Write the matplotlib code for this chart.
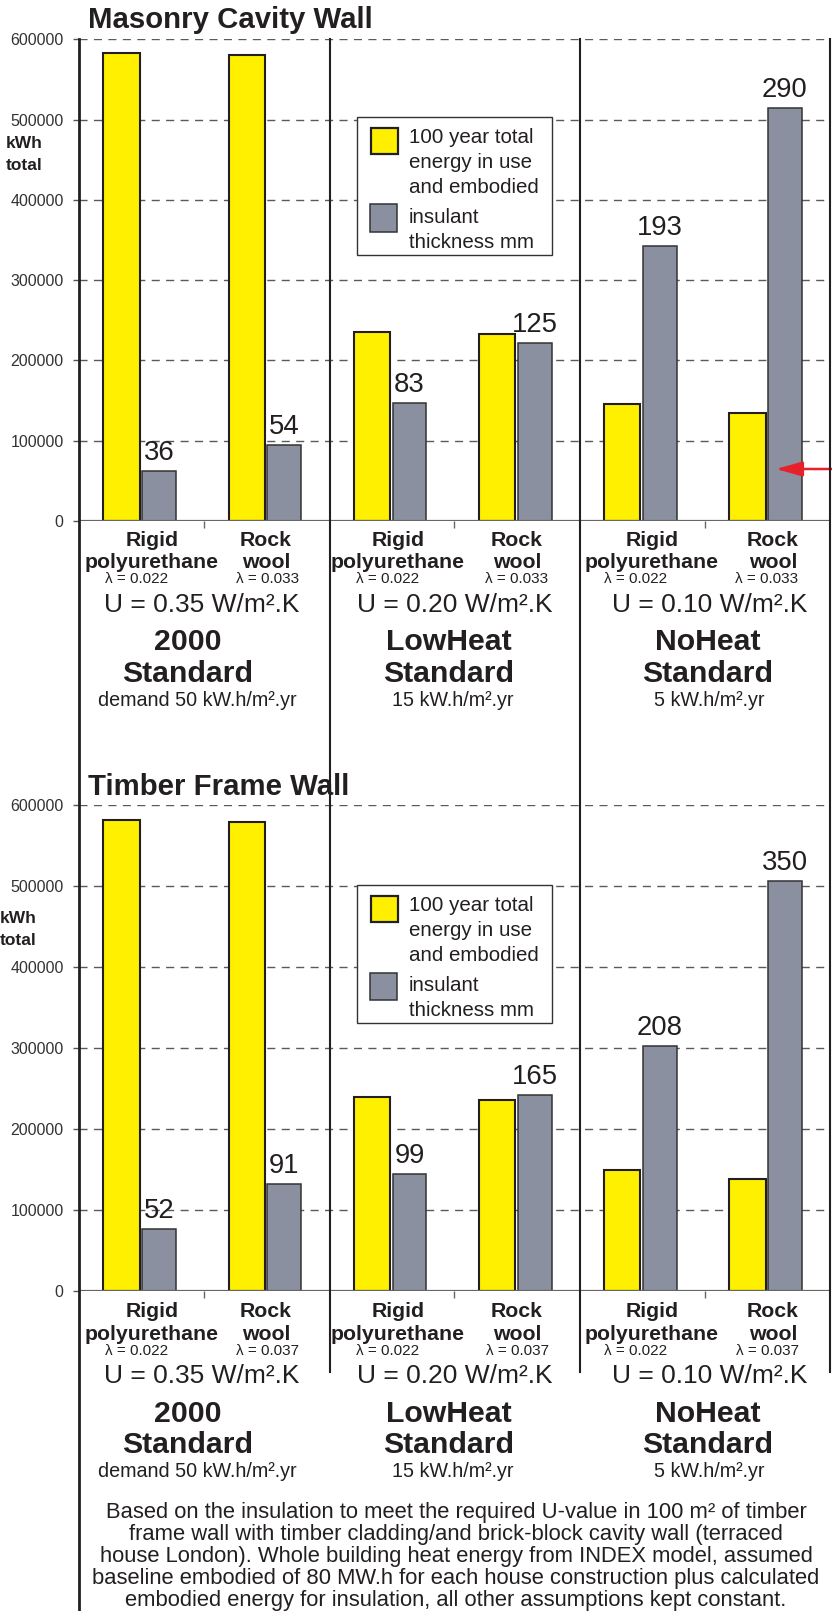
import matplotlib
matplotlib.use("Agg")
import matplotlib.pyplot as plt
from matplotlib.lines import Line2D
from matplotlib.patches import Rectangle

plt.rcParams['font.family'] = ['Liberation Sans', 'DejaVu Sans']
plt.rcParams['lines.scale_dashes'] = False

W, H = 832, 1611

# ---------------- data ----------------
materials_top = ["Rigid", "Rock"]
materials_bottom = ["polyurethane", "wool"]
standard_names = ["2000", "LowHeat", "NoHeat"]
demand_labels = ["demand 50 kW.h/m\u00b2.yr", "15 kW.h/m\u00b2.yr", "5 kW.h/m\u00b2.yr"]
u_values = ["0.35", "0.20", "0.10"]
masonry_lambda = ["0.022", "0.033"]
timber_lambda = ["0.022", "0.037"]

masonry_energy = [583000, 581000, 235700, 232500, 145300, 134900]
masonry_insulant_bar = [62600, 95000, 147300, 221300, 342500, 514700]
masonry_mm = [36, 54, 83, 125, 193, 290]

timber_energy = [582000, 579500, 238800, 235100, 149600, 138000]
timber_insulant_bar = [75800, 131400, 144600, 242100, 302100, 506700]
timber_mm = [52, 91, 99, 165, 208, 350]

yticks = [0, 100000, 200000, 300000, 400000, 500000, 600000]
legend_energy = ["100 year total", "energy in use", "and embodied"]
legend_insulant = ["insulant", "thickness mm"]
footnote = [
    "Based on the insulation to meet the required U-value in 100 m\u00b2 of timber",
    "frame wall with timber cladding/and brick-block cavity wall (terraced",
    "house London). Whole building heat energy from INDEX model, assumed",
    "baseline embodied of 80 MW.h for each house construction plus calculated",
    "embodied energy for insulation, all other assumptions kept constant.",
]

YELLOW = "#FFF000"
GREY = "#8A909F"
DARK = "#231F20"

fig = plt.figure(figsize=(W / 100, H / 100), dpi=100)
fig.patch.set_facecolor("white")


def fx(x):
    return x / W


def fy(y):
    return 1 - y / H


def ftext(x, y, s, **kw):
    fig.text(fx(x), fy(y), s, **kw)


def vline(x, y0, y1, lw, color=DARK):
    fig.add_artist(Line2D([fx(x), fx(x)], [fy(y0), fy(y1)], lw=lw, color=color,
                          transform=fig.transFigure, zorder=5))


def section(top_px, zero_px, energy, ins_bar, mm, lambdas, title, title_y, dy,
            legend_dy, kwh_x, kwh_y, arrow=False):
    ax = fig.add_axes([fx(79), fy(zero_px), (830 - 79) / W, (zero_px - top_px) / H])
    ax.set_xlim(0, 6)
    ax.set_ylim(0, 600000)
    for s in ax.spines.values():
        s.set_visible(False)
    for v in yticks[1:]:
        ax.axhline(v, color="#5a5a5a", lw=1.0, dashes=(5.8, 4.6), zorder=1)
    ax.axhline(0, color="#666666", lw=1.6, zorder=4)
    centers = [i + 0.5 for i in range(6)]
    ax.bar([c - 0.16 for c in centers], energy, width=0.29, color=YELLOW,
           edgecolor=DARK, linewidth=1.5, zorder=3)
    gx = [c + 0.14 for c in centers]
    ax.bar(gx, ins_bar, width=0.27, color=GREY, edgecolor="#333333",
           linewidth=1.1, zorder=3)
    for x, v, t in zip(gx, ins_bar, mm):
        ax.annotate(str(t), (x, v), xytext=(0, 3.5), textcoords="offset points",
                    ha="center", va="bottom", fontsize=19.8, color=DARK)
    ax.set_yticks(yticks)
    ax.set_yticklabels([str(v) for v in yticks])
    ax.tick_params(axis="y", direction="out", length=4, width=1, color="#555555",
                   labelsize=11.5, labelcolor="#333333", pad=7)
    ax.set_xticks([1, 3, 5])
    ax.set_xticklabels([])
    ax.tick_params(axis="x", direction="out", length=5, width=1, color="#666666")
    ax.patch.set_alpha(0)

    # title and axis label
    ftext(87.7, title_y, title, fontsize=21.2, fontweight="bold", color=DARK,
          va="baseline", ha="left")
    ftext(kwh_x, kwh_y, "kWh", fontsize=12.5, fontweight="bold", color=DARK,
          va="baseline")
    ftext(kwh_x, kwh_y + 22, "total", fontsize=12.5, fontweight="bold", color=DARK,
          va="baseline")

    # category labels
    rig_x = [152, 398, 652]
    rock_x = [266, 517, 773]
    lam_r = [137, 388, 636]
    lam_k = [268, 517, 767]
    u_x = [202, 455, 710]
    st_x = [188, 449, 708]
    dem_x = [197, 453, 709]
    for p in range(3):
        for cx, top, bot in ((rig_x[p], materials_top[0], materials_bottom[0]),
                             (rock_x[p], materials_top[1], materials_bottom[1])):
            ftext(cx, 545.7 + dy, top, fontsize=15.3, fontweight="bold", color=DARK,
                  ha="center", va="baseline")
            ftext(cx, 568.3 + dy, bot, fontsize=15.3, fontweight="bold", color=DARK,
                  ha="center", va="baseline")
        ftext(lam_r[p], 583.3 + dy, "\u03bb = " + lambdas[0], fontsize=11,
              color=DARK, ha="center", va="baseline")
        ftext(lam_k[p], 583.3 + dy, "\u03bb = " + lambdas[1], fontsize=11,
              color=DARK, ha="center", va="baseline")
        ftext(u_x[p], 611.7 + dy, "U = " + u_values[p] + " W/m\u00b2.K", fontsize=19,
              color=DARK, ha="center", va="baseline")
        ftext(st_x[p], 650 + dy, standard_names[p], fontsize=21.8, fontweight="bold",
              color=DARK, ha="center", va="baseline")
        ftext(st_x[p], 681.7 + dy, "Standard", fontsize=21.8, fontweight="bold",
              color=DARK, ha="center", va="baseline")
        ftext(dem_x[p], 705.7 + dy, demand_labels[p], fontsize=14.2,
              color=DARK, ha="center", va="baseline")

    # legend
    L = legend_dy
    fig.add_artist(Rectangle((fx(356.7), fy(254.7 + L)), (552 - 356.7) / W,
                             (254.7 - 117.3) / H, transform=fig.transFigure,
                             facecolor="white", edgecolor="#333333", lw=1.0,
                             zorder=6))
    fig.add_artist(Rectangle((fx(371), fy(154.3 + L)), 27 / W, 26.6 / H,
                             transform=fig.transFigure, facecolor=YELLOW,
                             edgecolor=DARK, lw=1.6, zorder=7))
    fig.add_artist(Rectangle((fx(370), fy(231.5 + L)), 27 / W, 27 / H,
                             transform=fig.transFigure, facecolor=GREY,
                             edgecolor="#333333", lw=1.1, zorder=7))
    for i, s in enumerate(legend_energy):
        fig.text(fx(409), fy(142.7 + 25 * i + L), s, fontsize=14.8, color=DARK,
                 va="baseline", ha="left", zorder=8)
    for i, s in enumerate(legend_insulant):
        fig.text(fx(409), fy(223 + 24.5 * i + L), s, fontsize=14.8, color=DARK,
                 va="baseline", ha="left", zorder=8)

    if arrow:
        fig.add_artist(plt.Annotation(
            "", xy=(fx(776), fy(469)), xytext=(fx(834), fy(469)),
            xycoords="figure fraction", textcoords="figure fraction",
            arrowprops=dict(arrowstyle="-|>,head_length=1.6,head_width=0.45",
                            mutation_scale=10, color="#E8202A", lw=1.8,
                            shrinkA=0, shrinkB=0)))
    return ax


section(39.3, 521.0, masonry_energy, masonry_insulant_bar, masonry_mm,
        masonry_lambda, "Masonry Cavity Wall", 28.3, 0, 0, 6, 148.3, arrow=True)
section(805.0, 1290.7, timber_energy, timber_insulant_bar, timber_mm,
        timber_lambda, "Timber Frame Wall", 795, 771.5, 768, 0, 922.7)

# frame lines
vline(79, 39, 1611, 2.0)
for x in (330, 580, 830):
    vline(x, 39, 1372, 1.5)

for i, s in enumerate(footnote):
    ftext(456, 1518.3 + 22 * i, s, fontsize=15.8, color=DARK, ha="center",
          va="baseline")

fig.savefig("out.png", dpi=100, facecolor="white")
